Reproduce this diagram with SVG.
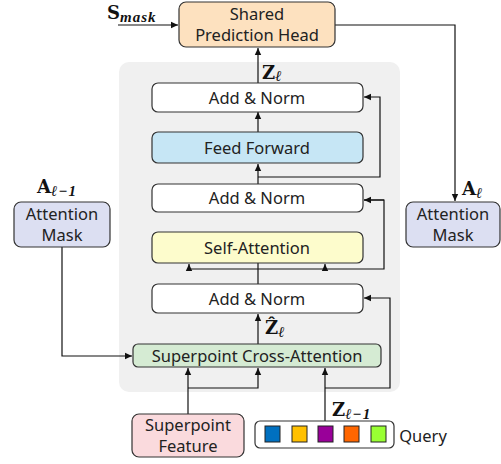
<svg xmlns="http://www.w3.org/2000/svg" width="501" height="464" viewBox="0 0 501 464">
<defs>
<marker id="ah" markerWidth="8" markerHeight="8" refX="7" refY="4" orient="auto" markerUnits="userSpaceOnUse">
<path d="M0,0.8 L7,4 L0,7.2 z" fill="#111"/>
</marker>
<style>
.box{stroke:#333;stroke-width:1.2}
.t{font-family:"Noto Sans","Open Sans",sans-serif;font-size:16.5px;fill:#222;text-anchor:middle}
.m{font-family:"DejaVu Serif","Liberation Serif",serif;font-weight:bold;font-size:18px;fill:#111}
.s{font-family:"Liberation Serif","DejaVu Serif",serif;font-style:italic;font-size:15px;fill:#111;letter-spacing:1px}
.c{fill:none;stroke:#111;stroke-width:1.2}
.q{stroke:#222;stroke-width:1}
</style>
</defs>
<rect x="119" y="62" width="281" height="330" rx="10" fill="#f0f0f0"/>
<g id="connectors">
<path class="c" d="M118,25 H178" marker-end="url(#ah)"/>
<path class="c" d="M335,25 H455 V201" marker-end="url(#ah)"/>
<path class="c" d="M258,83 V48" marker-end="url(#ah)"/>
<path class="c" d="M258,132 V112" marker-end="url(#ah)"/>
<path class="c" d="M258,184 V164" marker-end="url(#ah)"/>
<path class="c" d="M258,177 H380 V97 H364" marker-end="url(#ah)"/>
<path class="c" d="M258,284 V269 M189,269 H384 V200 H364"/>
<path class="c" d="M384,200 H364" marker-end="url(#ah)"/>
<path class="c" d="M258,269 V232" marker-end="url(#ah)"/>
<path class="c" d="M189,269 V264" marker-end="url(#ah)"/>
<path class="c" d="M325,269 V264" marker-end="url(#ah)"/>
<path class="c" d="M258,344 V314" marker-end="url(#ah)"/>
<path class="c" d="M62,247 V356 H132" marker-end="url(#ah)"/>
<path class="c" d="M188,414 V368" marker-end="url(#ah)"/>
<path class="c" d="M188,388 H258 V368" marker-end="url(#ah)"/>
<path class="c" d="M325,421 V368" marker-end="url(#ah)"/>
<path class="c" d="M325,388 H390 V298 H364" marker-end="url(#ah)"/>
</g>
<g id="head"><rect class="box" x="179" y="2" width="156" height="45" rx="7" fill="#fde1bf"/>
<text class="t" x="257" y="20">Shared</text><text class="t" x="257" y="41">Prediction Head</text></g>
<g id="addnorm1"><rect class="box" x="152" y="83" width="211" height="29" rx="6" fill="#fff"/><text class="t" x="257" y="103.5">Add &amp; Norm</text></g>
<g id="ffn"><rect class="box" x="152" y="132" width="211" height="31" rx="6" fill="#c6e6f5"/><text class="t" x="257" y="153.5">Feed Forward</text></g>
<g id="addnorm2"><rect class="box" x="152" y="184" width="211" height="28" rx="6" fill="#fff"/><text class="t" x="257" y="204">Add &amp; Norm</text></g>
<g id="selfattn"><rect class="box" x="152" y="232" width="211" height="31" rx="6" fill="#fdfccc"/><text class="t" x="257" y="253.5">Self-Attention</text></g>
<g id="addnorm3"><rect class="box" x="152" y="284" width="211" height="29" rx="6" fill="#fff"/><text class="t" x="257" y="304.5">Add &amp; Norm</text></g>
<g id="crossattn"><rect class="box" x="133" y="344" width="248" height="23" rx="5" fill="#d5ebd3"/><text class="t" x="257" y="361.5">Superpoint Cross-Attention</text></g>
<g id="maskL"><rect class="box" x="14" y="202" width="96" height="45" rx="7" fill="#dcdff2"/><text class="t" x="62" y="220">Attention</text><text class="t" x="62" y="241">Mask</text></g>
<g id="maskR"><rect class="box" x="406" y="202" width="94" height="45" rx="7" fill="#dcdff2"/><text class="t" x="453" y="220">Attention</text><text class="t" x="453" y="241">Mask</text></g>
<g id="spfeat"><rect class="box" x="132" y="414" width="112" height="43" rx="7" fill="#fadadd"/><text class="t" x="188" y="431" font-size="16">Superpoint</text><text class="t" x="188" y="452" font-size="16">Feature</text></g>
<g id="query"><rect class="box" x="255" y="421" width="139" height="27" rx="5" fill="#fff"/>
<rect class="q" x="265" y="426" width="15" height="16" fill="#0070c0"/>
<rect class="q" x="292" y="426" width="15" height="16" fill="#ffc000"/>
<rect class="q" x="318" y="426" width="15" height="16" fill="#990099"/>
<rect class="q" x="344" y="426" width="15" height="16" fill="#ff6600"/>
<rect class="q" x="371" y="426" width="15" height="16" fill="#99ff33"/>
<text class="t" x="423" y="442">Query</text></g>
<g id="labels">
<text class="m" x="107" y="19">S<tspan class="s" dy="3">mask</tspan></text>
<text class="m" x="262" y="79" font-size="14">Z<tspan class="s" font-size="10" dy="2">ℓ</tspan></text>
<text class="m" x="37" y="193">A<tspan class="s" dy="3" font-weight="bold">ℓ−1</tspan></text>
<text class="m" x="462" y="195">A<tspan class="s" dy="3">ℓ</tspan></text>
<text class="m" x="265" y="334">Ẑ<tspan class="s" dy="3">ℓ</tspan></text>
<text class="m" x="332" y="416">Z<tspan class="s" dy="3" font-weight="bold">ℓ−1</tspan></text>
</g>
</svg>
